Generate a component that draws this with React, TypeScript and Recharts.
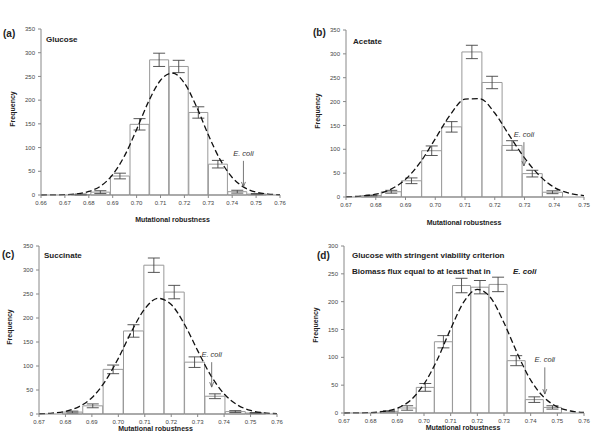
import { ComposedChart, Bar, Line, XAxis, YAxis, ErrorBar, ReferenceLine } from "recharts";

const FONT = "'Liberation Sans', Arial, sans-serif";
const AXIS = "#888";

// (a) Glucose
const binsA = [0.6767, 0.6849, 0.6931, 0.7013, 0.7095, 0.7177, 0.7259, 0.7341, 0.7422, 0.7504];
const freqA = [1, 6, 40, 149, 285, 271, 174, 65, 7, 2];
const errA = [1, 3, 6, 12, 14, 13, 12, 8, 3, 1];
const fitXA = [0.66, 0.665, 0.67, 0.675, 0.68, 0.685, 0.69, 0.695, 0.7, 0.705, 0.71, 0.715, 0.72, 0.725, 0.73, 0.735, 0.74, 0.745, 0.75, 0.755, 0.76];
const fitA = [0, 0.2, 0.7, 2.5, 7.5, 19, 43, 83, 138, 197, 242, 257, 236, 187, 127, 74, 37, 16, 6, 2, 0.5];

// (b) Acetate
const binsB = [0.6785, 0.6852, 0.692, 0.6988, 0.7055, 0.7123, 0.7191, 0.7258, 0.7326, 0.7394];
const freqB = [3, 11, 34, 97, 147, 304, 240, 108, 49, 10];
const errB = [1, 3, 6, 10, 11, 14, 13, 10, 7, 3];
const fitXB = [0.67, 0.675, 0.68, 0.685, 0.69, 0.695, 0.7, 0.705, 0.71, 0.715, 0.72, 0.725, 0.73, 0.735, 0.74, 0.745, 0.75];
const fitB = [0.5, 1.8, 5.8, 16, 37, 73, 122, 172, 205, 206, 176, 128, 82, 45, 20, 8, 3];

// (c) Succinate
const binsC = [0.6827, 0.6904, 0.6981, 0.7058, 0.7135, 0.7212, 0.7289, 0.7366, 0.7443, 0.752];
const freqC = [4, 17, 93, 173, 310, 254, 108, 37, 5, 2];
const errC = [2, 4, 9, 13, 15, 14, 11, 5, 2, 1];
const fitXC = [0.67, 0.675, 0.68, 0.685, 0.69, 0.695, 0.7, 0.705, 0.71, 0.715, 0.72, 0.725, 0.73, 0.735, 0.74, 0.745, 0.75, 0.755, 0.76];
const fitC = [0.5, 1.8, 5.5, 15, 34, 68, 116, 172, 219, 241, 228, 187, 132, 80, 42, 19, 7.4, 2.5, 0.7];

// (d) Glucose, stringent viability
const binsD = [0.6869, 0.6937, 0.7005, 0.7073, 0.7141, 0.721, 0.7278, 0.7346, 0.7414, 0.7482];
const freqD = [3, 9, 46, 128, 229, 226, 231, 94, 24, 10];
const errD = [1, 4, 7, 11, 13, 12, 13, 9, 5, 3];
const fitXD = fitXC;
const fitD = [0, 0.2, 0.7, 2.8, 8.8, 23, 52, 96, 151, 200, 222, 207, 162, 107, 59, 28, 11, 3.6, 1];

const ticks66 = [0.66, 0.67, 0.68, 0.69, 0.7, 0.71, 0.72, 0.73, 0.74, 0.75, 0.76];
const ticks67 = [0.67, 0.68, 0.69, 0.7, 0.71, 0.72, 0.73, 0.74, 0.75, 0.76];
const ticks67b = [0.67, 0.68, 0.69, 0.7, 0.71, 0.72, 0.73, 0.74, 0.75];
const yTicks350 = [0, 50, 100, 150, 200, 250, 300, 350];
const yTicks300 = [0, 50, 100, 150, 200, 250, 300];

function Arrow(props: any) {
  const { x1, y1, x2, y2 } = props;
  return (
    <g>
      <text x={x1} y={y1 - 5} textAnchor="middle" fontSize={7.5} fontStyle="italic" fill="#333" fontFamily={FONT}>E. coli</text>
      <line x1={x1} y1={y1} x2={x2} y2={y2} stroke="#555" strokeWidth={0.8} />
      <path d={`M${x2 - 2},${y2 - 5} L${x2},${y2} L${x2 + 2},${y2 - 5}`} fill="none" stroke="#555" strokeWidth={0.8} />
    </g>
  );
}

interface PanelProps {
  left: number; top: number;
  margin: { top: number; right: number; bottom: number; left: number };
  bins: number[]; freq: number[]; err: number[];
  fitX: number[]; fit: number[];
  xDomain: [number, number]; xTicks: number[];
  yMax: number; yTicks: number[];
  ecoli: [number, number, number];
}

function Panel(p: PanelProps) {
  const data = p.bins.map((x, i) => ({ x, f: p.freq[i], e: p.err[i] }));
  const fitData = p.fitX.map((x, i) => ({ x, y: p.fit[i] }));
  const tick = { fontSize: 6, fill: "#444", fontFamily: FONT };
  return (
    <div style={{ position: "absolute", left: p.left, top: p.top }}>
      <ComposedChart width={300} height={222} data={data} margin={p.margin} barCategoryGap={0} barGap={0}>
        <XAxis dataKey="x" type="number" domain={p.xDomain} ticks={p.xTicks} tickFormatter={(v) => v.toFixed(2)}
          height={20} tick={tick} tickSize={3} tickMargin={3} stroke={AXIS} allowDataOverflow />
        <XAxis xAxisId="top" orientation="top" dataKey="x" type="number" domain={p.xDomain} height={0}
          tick={false} tickLine={false} stroke={AXIS} allowDataOverflow />
        <YAxis type="number" domain={[0, p.yMax]} ticks={p.yTicks} width={24} tick={tick} tickSize={3} tickMargin={3} stroke={AXIS} />
        <YAxis yAxisId="r" orientation="right" type="number" domain={[0, p.yMax]} width={0} tick={false} tickLine={false} stroke={AXIS} />
        <Bar dataKey="f" fill="#fff" stroke="#999" strokeWidth={1} isAnimationActive={false}>
          <ErrorBar dataKey="e" direction="y" width={6} stroke="#444" strokeWidth={0.9} />
        </Bar>
        <Line data={fitData} xAxisId="top" dataKey="y" type="monotone" stroke="#111" strokeWidth={1.3}
          strokeDasharray="6 3" dot={false} isAnimationActive={false} />
        <ReferenceLine segment={[{ x: p.ecoli[0], y: p.ecoli[1] }, { x: p.ecoli[0], y: p.ecoli[2] }]} shape={Arrow} />
      </ComposedChart>
    </div>
  );
}

const txt = (left: number, top: number, size: number, text: string, extra: any = {}) => (
  <div style={{ position: "absolute", left, top, fontSize: size, fontWeight: 700, lineHeight: 1, whiteSpace: "nowrap", color: "#222", ...extra }}>{text}</div>
);

function Freq({ cx, cy }: { cx: number; cy: number }) {
  return (
    <div style={{ position: "absolute", left: cx - 30, top: cy - 5, width: 60, height: 10, lineHeight: "10px", textAlign: "center",
      fontSize: 7, fontWeight: 700, color: "#222", transform: "rotate(-90deg)" }}>Frequency</div>
  );
}

function XLabel({ cx, cy }: { cx: number; cy: number }) {
  return (
    <div style={{ position: "absolute", left: cx - 60, top: cy - 5, width: 120, height: 10, lineHeight: "10px", textAlign: "center",
      fontSize: 7, fontWeight: 700, color: "#222" }}>Mutational robustness</div>
  );
}

export default function App() {
  return (
    <div style={{ position: "absolute", left: 0, top: 0, width: 600, height: 444, background: "#fff", fontFamily: FONT, overflow: "hidden" }}>
      <Panel left={0} top={0} margin={{ top: 29, right: 20, bottom: 7, left: 17 }}
        bins={binsA} freq={freqA} err={errA} fitX={fitXA} fit={fitA}
        xDomain={[0.66, 0.76]} xTicks={ticks66} yMax={350} yTicks={yTicks350} ecoli={[0.7447, 72, 17]} />
      <Panel left={300} top={0} margin={{ top: 30, right: 16, bottom: 5, left: 22 }}
        bins={binsB} freq={freqB} err={errB} fitX={fitXB} fit={fitB}
        xDomain={[0.67, 0.75]} xTicks={ticks67b} yMax={350} yTicks={yTicks350} ecoli={[0.7298, 115, 65]} />
      <Panel left={0} top={222} margin={{ top: 24, right: 23, bottom: 10, left: 15 }}
        bins={binsC} freq={freqC} err={errC} fitX={fitXC} fit={fitC}
        xDomain={[0.67, 0.76]} xTicks={ticks67} yMax={350} yTicks={yTicks350} ecoli={[0.7353, 108, 56]} />
      <Panel left={300} top={222} margin={{ top: 24, right: 16, bottom: 11, left: 20 }}
        bins={binsD} freq={freqD} err={errD} fitX={fitXD} fit={fitD}
        xDomain={[0.67, 0.76]} xTicks={ticks67} yMax={300} yTicks={yTicks300} ecoli={[0.7453, 82, 34]} />

      {txt(3, 29, 10, "(a)")}
      {txt(313, 28, 10, "(b)")}
      {txt(2, 250, 10, "(c)")}
      {txt(317, 251, 10, "(d)")}

      {txt(46, 36, 8, "Glucose")}
      {txt(353, 38, 8, "Acetate")}
      {txt(44, 252, 8, "Succinate")}
      {txt(352, 252, 8, "Glucose with stringent viability criterion")}
      {txt(352, 268, 8, "Biomass flux equal to at least that in")}
      {txt(513, 268, 8, "E. coli", { fontStyle: "italic" })}

      <Freq cx={12.5} cy={109} />
      <Freq cx={318} cy={111} />
      <Freq cx={9.5} cy={327} />
      <Freq cx={316} cy={325} />

      <XLabel cx={172.5} cy={219.5} />
      <XLabel cx={464} cy={222.5} />
      <XLabel cx={155.5} cy={429} />
      <XLabel cx={463} cy={427.5} />
    </div>
  );
}
